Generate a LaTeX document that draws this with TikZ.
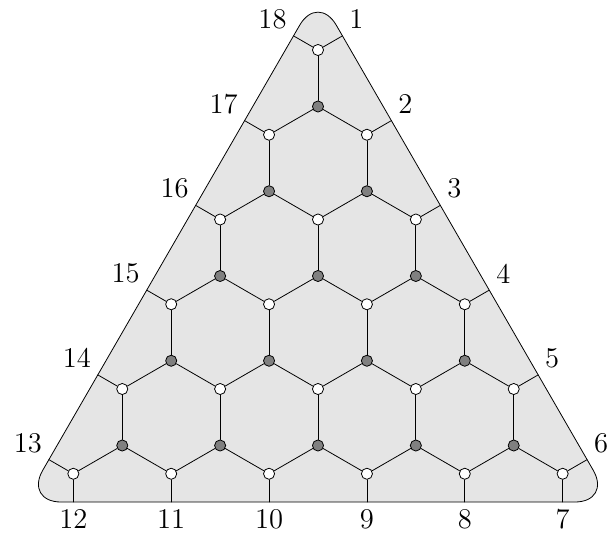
\documentclass[tikz,border=0pt]{standalone}
\begin{document}
\begin{tikzpicture}[line join=round, line cap=round,
	wdot/.style={circle, draw, fill=white, inner sep=0pt, minimum size=5.6pt},
	gdot/.style={circle, draw, fill=gray, inner sep=0pt, minimum size=5.6pt},
	lab/.style={font=\Large}]
	\useasboundingbox (-5.628,-8.619) rectangle (5.168,0.885);
	
	% 1. Tam giác nền bo góc
	\coordinate (A) at (0,1);
	\coordinate (B) at (-5.196,-8);
	\coordinate (C) at (5.196,-8);
	\filldraw[fill=gray!20, rounded corners=0.65cm] (0,-8) -- (C) -- (A) -- (B) -- cycle;
	
	% 2. Các đỉnh trắng và xám của lưới lục giác
	\foreach \k in {0,...,5}{
		\foreach \j in {0,...,\k}
			\node[wdot] (W-\k-\j) at ({(2*\j-\k)*0.866}, {-1.5*\k}) {};
	}
	\foreach \k in {0,...,4}{
		\foreach \j in {0,...,\k}
			\node[gdot] (G-\k-\j) at ({(2*\j-\k)*0.866}, {-1.5*\k-1}) {};
	}
	
	% 3. Các cạnh bên trong
	\foreach \k in {0,...,4}{
		\pgfmathtruncatemacro{\kk}{\k+1}
		\foreach \j in {0,...,\k}{
			\pgfmathtruncatemacro{\jj}{\j+1}
			\draw (W-\k-\j) -- (G-\k-\j);
			\draw (G-\k-\j) -- (W-\kk-\j);
			\draw (G-\k-\j) -- (W-\kk-\jj);
		}
	}
	
	% 4. Các cạnh ra biên và nhãn 1..18
	\foreach \k in {0,...,5}{
		\pgfmathtruncatemacro{\nl}{18-\k}
		\pgfmathtruncatemacro{\nr}{\k+1}
		\coordinate (L-\k) at ({-\k*0.866-0.433}, {-1.5*\k+0.25});
		\coordinate (R-\k) at ({\k*0.866+0.433}, {-1.5*\k+0.25});
		\draw (W-\k-0) -- (L-\k) node[lab, above left] {\nl};
		\draw (W-\k-\k) -- (R-\k) node[lab, above right] {\nr};
	}
	\foreach \j in {0,...,5}{
		\pgfmathtruncatemacro{\nb}{12-\j}
		\coordinate (D-\j) at ({(2*\j-5)*0.866}, -8);
		\draw (W-5-\j) -- (D-\j) node[lab, below] {\nb};
	}
\end{tikzpicture}
\end{document}
